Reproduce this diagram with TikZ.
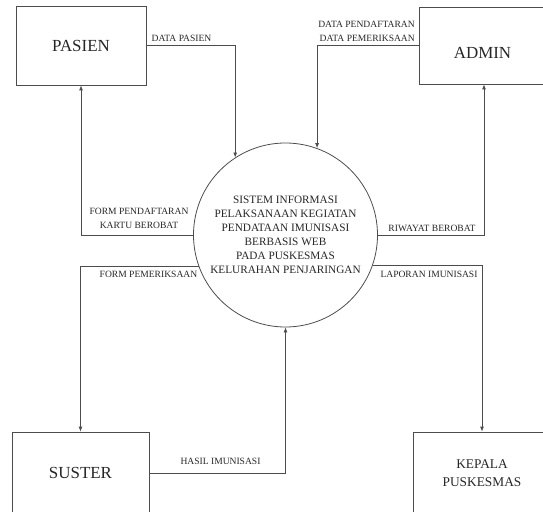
\documentclass[tikz,border=0pt]{standalone}
\usepackage{fontspec}
\setmainfont{Liberation Serif}
\usetikzlibrary{arrows.meta}

\tikzset{
  entity/.style={draw=black!70, line width=0.8pt, inner sep=0pt, text=black!85},
  flow/.style={draw=black!70, line width=0.8pt, -{Latex[length=5bp,width=4bp]}},
  lbl/.style={font=\fontsize{9.6}{14}\selectfont, text=black!85, align=center, inner sep=0pt},
}

\begin{document}
\begin{tikzpicture}[x=1bp,y=-1bp]
\clip (0,0) rectangle (543,512);
% terminators
\node[entity, minimum width=130bp, minimum height=79bp, font=\fontsize{17}{20}\selectfont] at (81,45.5) (pasien) {PASIEN};
\node[entity, minimum width=130bp, minimum height=77bp] at (484,45.5) (admin) {};
\node[text=black!85, font=\fontsize{17}{20}\selectfont] at (482.5,53) (admintxt) {ADMIN};
\node[entity, minimum width=137bp, minimum height=82bp, font=\fontsize{17}{20}\selectfont] at (80.5,473) (suster) {SUSTER};
\node[entity, minimum width=138bp, minimum height=82bp, align=center, font=\fontsize{13.4}{18}\selectfont] at (482,473) (kepala) {KEPALA\\PUSKESMAS};
% process
\node[circle, draw=black!70, line width=0.8pt, minimum size=184bp, inner sep=0pt, align=center, text=black!85, font=\fontsize{11.3}{14}\selectfont] at (285.5,235) (sis) {SISTEM INFORMASI\\PELAKSANAAN KEGIATAN\\PENDATAAN IMUNISASI\\BERBASIS WEB\\PADA PUSKESMAS\\KELURAHAN PENJARINGAN};
% data flows
\draw[flow] (pasien.east) -| (sis.123.3);
\draw[flow] (admin.west) -| (sis.70);
\draw[flow] (sis.west) -| (pasien.south);
\draw[flow] (sis.east) -| (admin.south);
\draw[flow] (sis.200.3) -| (suster.north);
\draw[flow] (suster.east) -| (sis.south);
\draw[flow] (sis.-19.7) -| (kepala.north);
% labels
\node[lbl] at (181.5,38) (lpasien) {DATA PASIEN};
\node[lbl, align=right, anchor=east] at (415,31) (ladmin) {DATA PENDAFTARAN\\DATA PEMERIKSAAN};
\node[lbl] at (139,218.5) (lform) {FORM PENDAFTARAN\\KARTU BEROBAT};
\node[lbl] at (432,228) (lriwayat) {RIWAYAT BEROBAT};
\node[lbl] at (148.5,274) (lperiksa) {FORM PEMERIKSAAN};
\node[lbl] at (429,274) (llaporan) {LAPORAN IMUNISASI};
\node[lbl] at (220.5,461) (lhasil) {HASIL IMUNISASI};
\end{tikzpicture}
\end{document}
